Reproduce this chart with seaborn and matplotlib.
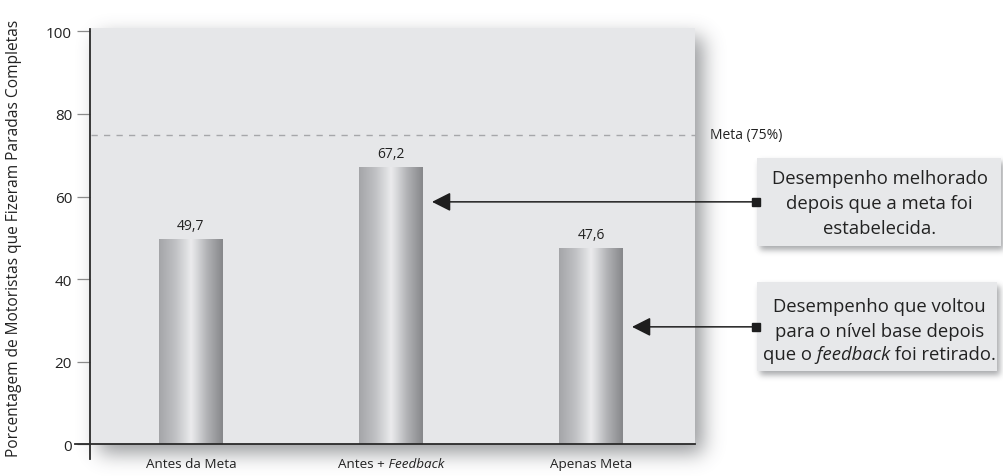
import numpy as np
import pandas as pd
import matplotlib
matplotlib.use("Agg")
import matplotlib.pyplot as plt
import seaborn as sns
from matplotlib.patches import Rectangle
from matplotlib.colors import LinearSegmentedColormap
from matplotlib.transforms import offset_copy

# --- data ---------------------------------------------------------------
categorias = ["Antes da Meta", "Antes + Feedback", "Apenas Meta"]
# category labels split into (text, style) pieces so words can be italic
rotulos_x = [
    [("Antes da Meta", "normal")],
    [("Antes +", "normal"), (" Feedback", "italic")],
    [("Apenas Meta", "normal")],
]
percentuais = [49.7, 67.2, 47.6]
meta = 75
yticks = [0, 20, 40, 60, 80, 100]
ylabel = "Porcentagem de Motoristas que Fizeram Paradas Completas"
meta_rotulo = "Meta (75%)"
nota_1 = [
    [("Desempenho melhorado", "normal")],
    [("depois que a meta foi", "normal")],
    [("estabelecida.", "normal")],
]
nota_2 = [
    [("Desempenho que voltou", "normal")],
    [("para o nível base depois", "normal")],
    [("que o", "normal"), (" feedback", "italic"), (" foi retirado.", "normal")],
]

df = pd.DataFrame({"categoria": categorias, "percentual": percentuais})

# --- style ----------------------------------------------------------------
sns.set_theme(style="white")
plt.rcParams["font.family"] = ["Open Sans", "DejaVu Sans"]
TXT = "#222222"
PANEL = "#e6e7e9"

W, H = 1004, 477
fig = plt.figure(figsize=(W / 100, H / 100), dpi=100)
fig.patch.set_facecolor("white")
ax = fig.add_axes([70 / W, 7 / H, (W - 70) / W, 450 / H])
ax.set_facecolor("none")

XL = (-0.605, 4.065)
YL = (-6.06, 103.03)

sns.barplot(data=df, x="categoria", y="percentual", ax=ax, width=0.32,
            color="#b0b1b4", saturation=1, zorder=3)

# cylindrical shading on every bar
cyl = LinearSegmentedColormap.from_list(
    "cyl", [(0.0, "#a4a5a8"), (0.25, "#bfc0c3"), (0.42, "#dcdddf"),
            (0.5, "#ebebed"), (0.56, "#dfe0e2"), (0.75, "#b2b3b6"),
            (1.0, "#86878a")])
grad = np.linspace(0, 1, 256)[None, :]
for patch in list(ax.patches):
    x0, w = patch.get_x(), patch.get_width()
    h = patch.get_height()
    im = ax.imshow(grad, extent=[x0, x0 + w, 0, h], aspect="auto",
                   cmap=cyl, zorder=3, interpolation="bicubic")
    im.set_clip_path(patch)
    patch.set_facecolor("none")
    patch.set_edgecolor("none")

ax.bar_label(ax.containers[0],
             labels=[f"{v:.1f}".replace(".", ",") for v in percentuais],
             padding=4, fontsize=10, color=TXT)

ax.set_xlim(*XL)
ax.set_ylim(*YL)

# plot panel
ax.add_patch(Rectangle((-0.5, 0), 3.02, 100.85, facecolor=PANEL,
                       edgecolor="none", zorder=0))

# goal line
ax.plot([-0.5, 2.52], [meta, meta], color="#a6a7aa", lw=1,
        ls=(0, (4.5, 4.5)), zorder=1)
ax.text(2.595, meta, meta_rotulo, ha="left", va="center", fontsize=10,
        color=TXT)

# axes
for s in ["top", "right"]:
    ax.spines[s].set_visible(False)
ax.spines["left"].set_position(("data", -0.505))
ax.spines["left"].set_bounds(-3.6, 100.6)
ax.spines["bottom"].set_position(("data", 0))
ax.spines["bottom"].set_bounds(-0.58, 2.52)
for s in ["left", "bottom"]:
    ax.spines[s].set_color("#2a2a2a")
    ax.spines[s].set_linewidth(1.3)
    ax.spines[s].set_zorder(4)

ax.set_yticks(yticks)
ax.set_yticklabels([str(t) for t in yticks])
ax.tick_params(axis="y", length=9.4, width=0.9, color="#8a8a8a",
               labelsize=11, labelcolor=TXT, pad=3.5, left=True)
ax.set_xticks(range(len(categorias)))
ax.set_xticklabels([""] * len(categorias))
ax.tick_params(axis="x", length=0)
ax.set_xlabel("")
ax.set_ylabel("")
fig.text(14 / W, 1 - 238 / H, ylabel, rotation=90, ha="center",
         va="center", fontsize=11.2, color=TXT)

renderer = fig.canvas.get_renderer()


def texto_misto(x, y, partes, **kw):
    """Draw one centred line made of regular/italic pieces."""
    objs = [ax.text(x, y, s, style=st, ha="left", va="baseline", **kw)
            for s, st in partes]
    larguras = [t.get_window_extent(renderer).width for t in objs]
    off = -sum(larguras) / 2
    for t, w in zip(objs, larguras):
        t.set_transform(offset_copy(ax.transData, fig=fig,
                                    x=off * 72 / fig.dpi, y=0,
                                    units="points"))
        off += w


# category labels under the bars
for i, partes in enumerate(rotulos_x):
    texto_misto(i, -5.6, partes, fontsize=9.7, color=TXT, clip_on=False)

# callout boxes with arrows
caixas = [
    dict(x=2.83, y=48.0, w=1.22, h=21.3, linhas=nota_1,
         ys=[63.3, 57.2, 51.1], seta_y=58.7, alvo=1),
    dict(x=2.83, y=17.7, w=1.20, h=21.6, linhas=nota_2,
         ys=[32.2, 26.3, 20.5], seta_y=28.4, alvo=2),
]
for c in caixas:
    ax.add_patch(Rectangle((c["x"], c["y"]), c["w"], c["h"],
                           facecolor="#e7e8ea", edgecolor="none", zorder=2,
                           clip_on=False))
    cx = 3.443
    for ly, partes in zip(c["ys"], c["linhas"]):
        texto_misto(cx, ly, partes, fontsize=13.3, color=TXT, zorder=5)
    tip = c["alvo"] + 0.16 + 0.045
    ax.annotate("", xy=(tip, c["seta_y"]), xytext=(2.825, c["seta_y"]),
                arrowprops=dict(arrowstyle="-|>,head_length=0.95,head_width=0.48",
                                color="#1e1e1e", lw=1.1, shrinkA=0, shrinkB=0),
                zorder=5)
    ax.plot([2.825], [c["seta_y"]], marker="s", ms=6.3, color="#1e1e1e",
            zorder=6, clip_on=False)


# soft drop shadows behind the panel and the boxes
def blur(a, sigma):
    r = int(3 * sigma)
    k = np.exp(-0.5 * (np.arange(-r, r + 1) / sigma) ** 2)
    k /= k.sum()
    a = np.apply_along_axis(lambda m: np.convolve(m, k, mode="same"), 0, a)
    a = np.apply_along_axis(lambda m: np.convolve(m, k, mode="same"), 1, a)
    return a


def rect_mask(x0, y0, x1, y1, dx, dy):
    (px0, py0), (px1, py1) = ax.transData.transform([(x0, y0), (x1, y1)])
    m = np.zeros((H, W))
    m[int(round(py0 + dy)):int(round(py1 + dy)),
      int(round(px0 + dx)):int(round(px1 + dx))] = 1.0
    return m


sombra = 0.6 * blur(rect_mask(-0.5, 0, 2.52, 100.85, 8, -9), 10)
for c in caixas:
    sombra = np.maximum(sombra, 0.5 * blur(
        rect_mask(c["x"], c["y"], c["x"] + c["w"], c["y"] + c["h"], 3, -4), 3))
rgba = np.zeros((H, W, 4))
rgba[..., 0] = 0.32
rgba[..., 1] = 0.33
rgba[..., 2] = 0.35
rgba[..., 3] = np.clip(sombra, 0, 1)
fig.figimage(rgba, xo=0, yo=0, origin="lower", zorder=-10)

fig.savefig("out.png", dpi=100)
